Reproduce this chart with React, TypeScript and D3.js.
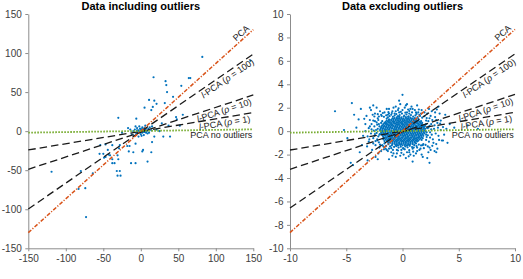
import React, { useEffect, useRef } from 'react';
import * as d3 from 'd3';

// ---- data ----
const leftXTicks = [-150, -100, -50, 0, 50, 100, 150];
const leftYTicks = [-150, -100, -50, 0, 50, 100, 150];
const rightXTicks = [-10, -5, 0, 5, 10];
const rightYTicks = [-10, -8, -6, -4, -2, 0, 2, 4, 6, 8, 10];

const lineNames = ['PCA', 'l-PCA (ρ = 100)', 'l-PCA (ρ = 10)', 'l-PCA (ρ = 1)', 'PCA no outliers'];
// y values at the left and right x-limits
const leftLineEnds = [[-130, 130], [-99.6, 98.8], [-48.9, 46.3], [-24.1, 23.7], [-1.9, 2.3]];
const rightLineEnds = [[-8.66, 8.69], [-6.56, 6.59], [-3.26, 3.14], [-1.61, 1.61], [-0.13, 0.16]];

const leftPoints = [
  [82, 95], [146, 90], [17, 69], [33, 64], [34, 59], [64, 68], [66, 68], [54, 58], [35, 50], [43, 44],
  [32, 36], [11, 40], [18, 39], [21, 35], [16, 31], [14, 27], [5, 30], [-6, 16], [-30, 17], [47, 18],
  [48, 15], [56, 21], [28, 10], [37, 7], [52, 7], [-17, 4], [15, 6], [25, 0], [21, 2], [30, -7],
  [39, -7], [18, -7], [-25, -2], [-47, -17], [-54, -18], [-44, -24], [-47, -33], [-49, -34], [-41, -31],
  [-38, -36], [-35, -41], [-31, -31], [-38, -41], [-32, -51], [-28, -51], [-31, -57], [-27, -57],
  [-18, -19], [-15, -19], [-16, -26], [-10, -27], [-7, -16], [-7, -41], [-13, -41], [2, -26], [3, -24],
  [14, -27], [9, -39], [15, -14], [-119, -52], [-80, -51], [-83, -74], [-74, -73], [-73, -110],
  [-64, -54], [-50, -29], [-55, -29], [-43, -30], [-38, -18], [-30, -36], [-28, -18], [-29, -22],
  [-8, 2], [-5, 4], [-3, 1], [-2, -1], [0, 0], [1, 2], [2, -2], [3, 3], [4, 1], [5, -1], [6, 2],
  [-1, 3], [-4, -2], [7, 4], [8, 0], [-6, -3], [-10, 0], [10, 3], [12, 5], [-12, -4], [2, 5], [-2, 6],
  [0, -4], [4, -5], [-14, 2], [9, -3], [-7, 6], [6, 7], [1, -6], [-3, -7], [14, 1], [-9, -6], [11, -2],
  [-1, -2], [3, -1], [5, 4], [-5, 1], [0, 3], [7, -2],
];

const rightCore = [
  [-0.5, 1.18], [-0.3, 1.22], [-0.1, 1.17], [0.1, 1.23], [0.3, 1.19], [0.5, 1.21], [0.7, 1.16],
  [-0.9, 1.08], [-0.7, 1.12], [-0.5, 1.07], [-0.3, 1.11], [-0.1, 1.09], [0.1, 1.06], [0.3, 1.12], [0.5, 1.08], [0.7, 1.1], [0.9, 1.07], [1.1, 1.11],
  [-1.2, 1.0], [-1.0, 0.97], [-0.8, 1.02], [-0.6, 0.98], [-0.4, 1.03], [-0.2, 0.99], [0.0, 1.01], [0.2, 0.96], [0.4, 1.02], [0.6, 0.99], [0.8, 1.03], [1.0, 0.98], [1.2, 1.01],
  [-1.4, 0.9], [-1.2, 0.88], [-1.0, 0.92], [-0.8, 0.87], [-0.6, 0.91], [-0.4, 0.89], [-0.2, 0.93], [0.0, 0.88], [0.2, 0.9], [0.4, 0.87], [0.6, 0.92], [0.8, 0.89], [1.0, 0.91], [1.2, 0.88], [1.4, 0.9],
  [-1.5, 0.79], [-1.3, 0.81], [-1.1, 0.78], [-0.9, 0.82], [-0.7, 0.8], [-0.5, 0.77], [-0.3, 0.81], [-0.1, 0.79], [0.1, 0.83], [0.3, 0.78], [0.5, 0.8], [0.7, 0.82], [0.9, 0.77], [1.1, 0.81], [1.3, 0.79], [1.5, 0.8],
  [-1.6, 0.7], [-1.4, 0.68], [-1.2, 0.72], [-1.0, 0.69], [-0.8, 0.71], [-0.6, 0.67], [-0.4, 0.7], [-0.2, 0.72], [0.0, 0.68], [0.2, 0.71], [0.4, 0.69], [0.6, 0.73], [0.8, 0.68], [1.0, 0.7], [1.2, 0.72], [1.4, 0.67], [1.6, 0.7],
  [-1.7, 0.6], [-1.5, 0.62], [-1.3, 0.58], [-1.1, 0.61], [-0.9, 0.59], [-0.7, 0.63], [-0.5, 0.58], [-0.3, 0.6], [-0.1, 0.62], [0.1, 0.57], [0.3, 0.61], [0.5, 0.59], [0.7, 0.62], [0.9, 0.58], [1.1, 0.6], [1.3, 0.63], [1.5, 0.59], [1.7, 0.61],
  [-1.8, 0.5], [-1.6, 0.48], [-1.4, 0.52], [-1.2, 0.49], [-1.0, 0.51], [-0.8, 0.47], [-0.6, 0.5], [-0.4, 0.53], [-0.2, 0.48], [0.0, 0.51], [0.2, 0.49], [0.4, 0.52], [0.6, 0.47], [0.8, 0.5], [1.0, 0.52], [1.2, 0.48], [1.4, 0.51], [1.6, 0.49], [1.8, 0.5],
  [-1.85, 0.4], [-1.65, 0.42], [-1.45, 0.38], [-1.25, 0.41], [-1.05, 0.39], [-0.85, 0.43], [-0.65, 0.38], [-0.45, 0.4], [-0.25, 0.42], [-0.05, 0.37], [0.15, 0.41], [0.35, 0.39], [0.55, 0.43], [0.75, 0.38], [0.95, 0.4], [1.15, 0.42], [1.35, 0.39], [1.55, 0.41], [1.75, 0.38], [1.9, 0.4],
  [-1.9, 0.3], [-1.7, 0.28], [-1.5, 0.32], [-1.3, 0.29], [-1.1, 0.31], [-0.9, 0.27], [-0.7, 0.3], [-0.5, 0.33], [-0.3, 0.28], [-0.1, 0.31], [0.1, 0.29], [0.3, 0.32], [0.5, 0.27], [0.7, 0.3], [0.9, 0.32], [1.1, 0.28], [1.3, 0.31], [1.5, 0.29], [1.7, 0.32], [1.9, 0.3],
  [-1.95, 0.2], [-1.75, 0.22], [-1.55, 0.18], [-1.35, 0.21], [-1.15, 0.19], [-0.95, 0.23], [-0.75, 0.18], [-0.55, 0.2], [-0.35, 0.22], [-0.15, 0.17], [0.05, 0.21], [0.25, 0.19], [0.45, 0.23], [0.65, 0.18], [0.85, 0.2], [1.05, 0.22], [1.25, 0.19], [1.45, 0.21], [1.65, 0.18], [1.85, 0.2], [2.0, 0.22],
  [-2.0, 0.1], [-1.8, 0.08], [-1.6, 0.12], [-1.4, 0.09], [-1.2, 0.11], [-1.0, 0.07], [-0.8, 0.1], [-0.6, 0.13], [-0.4, 0.08], [-0.2, 0.11], [0.0, 0.09], [0.2, 0.12], [0.4, 0.07], [0.6, 0.1], [0.8, 0.12], [1.0, 0.08], [1.2, 0.11], [1.4, 0.09], [1.6, 0.12], [1.8, 0.1], [2.0, 0.08],
  [-1.95, 0.0], [-1.75, -0.02], [-1.55, 0.02], [-1.35, -0.01], [-1.15, 0.01], [-0.95, -0.03], [-0.75, 0.0], [-0.55, 0.03], [-0.35, -0.02], [-0.15, 0.01], [0.05, -0.01], [0.25, 0.02], [0.45, -0.03], [0.65, 0.0], [0.85, 0.02], [1.05, -0.02], [1.25, 0.01], [1.45, -0.01], [1.65, 0.02], [1.85, 0.0], [2.05, -0.02],
  [-1.9, -0.1], [-1.7, -0.12], [-1.5, -0.08], [-1.3, -0.11], [-1.1, -0.09], [-0.9, -0.13], [-0.7, -0.08], [-0.5, -0.1], [-0.3, -0.12], [-0.1, -0.07], [0.1, -0.11], [0.3, -0.09], [0.5, -0.13], [0.7, -0.08], [0.9, -0.1], [1.1, -0.12], [1.3, -0.09], [1.5, -0.11], [1.7, -0.08], [1.9, -0.1],
  [-1.85, -0.2], [-1.65, -0.18], [-1.45, -0.22], [-1.25, -0.19], [-1.05, -0.21], [-0.85, -0.17], [-0.65, -0.2], [-0.45, -0.23], [-0.25, -0.18], [-0.05, -0.21], [0.15, -0.19], [0.35, -0.22], [0.55, -0.17], [0.75, -0.2], [0.95, -0.22], [1.15, -0.18], [1.35, -0.21], [1.55, -0.19], [1.75, -0.22], [1.95, -0.2],
  [-1.8, -0.3], [-1.6, -0.32], [-1.4, -0.28], [-1.2, -0.31], [-1.0, -0.29], [-0.8, -0.33], [-0.6, -0.28], [-0.4, -0.3], [-0.2, -0.32], [0.0, -0.27], [0.2, -0.31], [0.4, -0.29], [0.6, -0.33], [0.8, -0.28], [1.0, -0.3], [1.2, -0.32], [1.4, -0.29], [1.6, -0.31], [1.8, -0.28],
  [-1.75, -0.4], [-1.55, -0.38], [-1.35, -0.42], [-1.15, -0.39], [-0.95, -0.41], [-0.75, -0.37], [-0.55, -0.4], [-0.35, -0.43], [-0.15, -0.38], [0.05, -0.41], [0.25, -0.39], [0.45, -0.42], [0.65, -0.37], [0.85, -0.4], [1.05, -0.42], [1.25, -0.38], [1.45, -0.41], [1.65, -0.39], [1.85, -0.4],
  [-1.7, -0.5], [-1.5, -0.52], [-1.3, -0.48], [-1.1, -0.51], [-0.9, -0.49], [-0.7, -0.53], [-0.5, -0.48], [-0.3, -0.5], [-0.1, -0.52], [0.1, -0.47], [0.3, -0.51], [0.5, -0.49], [0.7, -0.53], [0.9, -0.48], [1.1, -0.5], [1.3, -0.52], [1.5, -0.49], [1.7, -0.51],
  [-1.6, -0.6], [-1.4, -0.58], [-1.2, -0.62], [-1.0, -0.59], [-0.8, -0.61], [-0.6, -0.57], [-0.4, -0.6], [-0.2, -0.63], [0.0, -0.58], [0.2, -0.61], [0.4, -0.59], [0.6, -0.62], [0.8, -0.57], [1.0, -0.6], [1.2, -0.62], [1.4, -0.58], [1.6, -0.61],
  [-1.5, -0.7], [-1.3, -0.72], [-1.1, -0.68], [-0.9, -0.71], [-0.7, -0.69], [-0.5, -0.73], [-0.3, -0.68], [-0.1, -0.7], [0.1, -0.72], [0.3, -0.67], [0.5, -0.71], [0.7, -0.69], [0.9, -0.72], [1.1, -0.68], [1.3, -0.7], [1.5, -0.71],
  [-1.4, -0.8], [-1.2, -0.78], [-1.0, -0.82], [-0.8, -0.79], [-0.6, -0.81], [-0.4, -0.77], [-0.2, -0.8], [0.0, -0.83], [0.2, -0.78], [0.4, -0.81], [0.6, -0.79], [0.8, -0.82], [1.0, -0.77], [1.2, -0.8], [1.4, -0.82],
  [-1.3, -0.9], [-1.1, -0.92], [-0.9, -0.88], [-0.7, -0.91], [-0.5, -0.89], [-0.3, -0.93], [-0.1, -0.88], [0.1, -0.9], [0.3, -0.92], [0.5, -0.87], [0.7, -0.91], [0.9, -0.89], [1.1, -0.92], [1.3, -0.88],
  [-1.1, -1.0], [-0.9, -1.02], [-0.7, -0.98], [-0.5, -1.01], [-0.3, -0.99], [-0.1, -1.03], [0.1, -0.98], [0.3, -1.0], [0.5, -1.02], [0.7, -0.97], [0.9, -1.01], [1.1, -0.99],
  [-0.9, -1.1], [-0.7, -1.08], [-0.5, -1.12], [-0.3, -1.09], [-0.1, -1.11], [0.1, -1.07], [0.3, -1.1], [0.5, -1.13], [0.7, -1.08], [0.9, -1.11],
  [-0.6, -1.2], [-0.4, -1.22], [-0.2, -1.18], [0.0, -1.21], [0.2, -1.19], [0.4, -1.23], [0.6, -1.18],
];

const rightHalo = [
  [-2.1, 1.25], [-1.85, 1.3], [-1.65, 1.22], [-1.45, 1.35], [-1.3, 1.18], [-1.15, 1.28], [-1.0, 1.4], [-0.85, 1.22],
  [-0.7, 1.33], [-0.55, 1.45], [-0.4, 1.28], [-0.25, 1.38], [-0.05, 1.5], [0.15, 1.32], [0.35, 1.42], [0.55, 1.27],
  [0.75, 1.37], [0.95, 1.24], [1.15, 1.34], [1.35, 1.2], [1.55, 1.3], [1.75, 1.15], [1.95, 1.27], [2.15, 1.12],
  [-1.75, 1.55], [-1.25, 1.62], [-0.95, 1.55], [-0.6, 1.7], [-0.15, 1.65], [0.25, 1.58], [0.6, 1.72], [0.85, 1.6],
  [1.25, 1.47], [1.65, 1.5], [1.95, 1.6], [-2.0, 1.7], [-0.35, 1.95], [0.5, 1.85], [1.45, 1.85],
  [-2.0, -1.15], [-1.8, -1.2], [-1.6, -1.05], [-1.45, -1.25], [-1.25, -1.12], [-1.1, -1.3], [-0.95, -1.22], [-0.75, -1.35],
  [-0.55, -1.28], [-0.35, -1.4], [-0.15, -1.33], [0.05, -1.45], [0.25, -1.3], [0.45, -1.38], [0.65, -1.25], [0.85, -1.36],
  [1.05, -1.2], [1.25, -1.27], [1.45, -1.15], [1.65, -1.22], [1.85, -1.1], [2.05, -1.18],
  [-1.65, -1.55], [-1.2, -1.5], [-0.85, -1.6], [-0.4, -1.65], [0.2, -1.55], [0.6, -1.62], [0.95, -1.75], [1.5, -1.6],
  [1.9, -1.45], [-0.1, -1.85], [0.55, -2.15], [1.7, -2.0], [2.3, -1.8], [-1.9, -1.7],
  [-2.15, 0.95], [-2.25, 0.55], [-2.2, 0.2], [-2.3, -0.15], [-2.15, -0.45], [-2.25, -0.7], [-2.1, -0.95], [-2.45, 0.85],
  [-2.5, 0.4], [-2.55, 0.05], [-2.45, -0.25], [-2.6, -0.6], [-2.4, -0.85], [-2.75, 0.6], [-2.8, -0.2], [-2.9, 0.95],
  [-3.0, 0.25], [-3.1, -0.45], [-2.95, -0.7], [-3.3, 0.0], [-2.65, 1.4], [-2.2, 1.45], [-2.05, -1.4], [-3.4, 1.05], [-3.15, -1.3],
  [2.1, 0.6], [2.2, 0.25], [2.15, -0.1], [2.25, -0.35], [2.1, -0.75], [2.3, 0.85], [2.4, 0.45], [2.45, -0.55],
  [2.55, 0.15], [2.6, -0.3], [2.5, 1.3], [2.65, 0.95], [2.75, -1.0], [2.85, 0.5], [2.95, -0.2], [3.0, 0.95],
  [3.15, 0.3], [3.25, -0.75], [3.35, 0.65], [3.6, 0.35], [3.7, -0.3], [3.1, -1.5], [2.4, -1.4], [2.9, 1.6],
  [-1.9, 0.7], [-1.8, 0.85], [-1.7, -0.7], [-1.6, -0.85], [1.75, 0.7], [1.65, 0.85], [1.8, -0.6], [1.7, -0.75],
  [1.4, 1.05], [-1.4, 1.07], [1.2, -1.05], [-1.25, -1.0], [2.0, 0.45], [2.1, -0.3], [-2.05, 0.4], [-2.0, -0.25],
];

const rightRing = [
  [-3.2, 1.3], [-3.0, -0.9], [-2.9, 0.4], [-2.8, 1.8], [-2.7, -1.6], [-2.6, 0.9], [-2.5, -0.4], [-2.45, 1.5],
  [-2.4, -1.2], [-2.35, 0.1], [-2.3, 2.0], [-2.25, -0.8], [-2.2, 1.1], [-2.15, -1.9], [-2.1, 0.6], [-2.05, -0.3],
  [-2.3, 0.75], [-2.6, -1.05], [-2.75, 0.15], [-2.5, 1.25],
  [-1.9, 1.4], [-1.7, -1.3], [-1.6, 1.6], [-1.5, -1.5], [-1.4, 1.9], [-1.3, -1.7], [-1.2, 1.5], [-1.0, -1.45],
  [-0.9, 1.7], [-0.8, -1.9], [-0.6, 2.1], [-0.5, -1.6], [-0.3, 1.6], [-0.2, -2.1], [0.0, 1.8], [0.1, -1.5],
  [0.3, 2.2], [0.4, -1.8], [0.6, 1.5], [0.7, -2.0], [0.9, 1.9], [1.0, -1.4], [1.2, 1.6], [1.3, -1.7], [1.5, 1.4],
  [1.6, -1.5], [1.7, 1.8], [1.8, -1.2],
  [2.1, 0.9], [2.15, -0.5], [2.2, 1.5], [2.25, -1.3], [2.3, 0.3], [2.35, -0.9], [2.4, 1.1], [2.45, -0.1],
  [2.5, -1.6], [2.55, 0.6], [2.6, 1.7], [2.7, -0.7], [2.8, 0.2], [2.9, 1.2], [3.0, -1.1], [3.1, 0.7],
  [3.2, -0.4], [3.3, 1.5], [3.4, 0.1], [3.5, -0.8], [2.65, -1.25], [2.35, 1.9], [2.85, -1.7], [3.05, 1.85],
  [-1.2, 1.9], [-0.8, 2.0], [-0.4, 1.8], [0.2, 2.0], [0.7, 1.9], [1.1, 1.8], [-1.0, -1.8], [-0.5, -1.9],
  [0.1, -2.0], [0.6, -1.8], [1.2, -1.9], [-1.4, -1.6], [1.4, 1.6], [-0.1, -1.6], [0.4, 1.6], [-0.7, 1.5],
  [0.9, -1.5], [-1.3, 1.4], [1.3, -1.4], [-0.2, 2.3], [0.8, 2.1], [-0.9, -2.1], [0.3, -2.3], [1.0, -2.1],
];

const rightOutliers = [
  [-6.0, 1.7], [-4.5, 2.4], [-4.6, -2.7], [-4.4, -2.9], [-3.9, 1.0], [-3.7, 1.9], [-3.5, -0.4], [-3.3, 0.6],
  [-3.6, -1.2], [-3.1, -2.5], [-2.9, 2.0], [-2.6, 2.2], [-2.4, -2.2], [-2.2, -2.4], [4.2, 0.6], [4.0, -1.0],
  [3.8, 1.4], [3.6, -0.8], [5.8, 0.5], [6.7, 0.2], [3.2, 2.1], [3.0, -1.8], [2.4, -2.7], [2.2, -2.3],
  [0.0, 3.1], [-0.3, 2.6], [0.4, 2.3], [1.3, 2.2], [1.8, -2.2], [-1.2, -2.4], [-0.6, -2.2], [0.9, -2.6],
  [-5.2, 0.1], [-4.9, -0.6], [4.6, 0.3], [-4.1, 0.3], [-4.3, 1.4], [-3.8, -1.8], [3.4, 0.9], [3.9, 0.2],
];

const rightPoints = [...rightCore, ...rightHalo, ...rightRing, ...rightOutliers];

// ---- styles ----
const FONT = '"Liberation Sans", Arial, Helvetica, sans-serif';
const lineStyles = [
  { stroke: '#D95319', width: 1.5, dash: '4,1.6,1.2,1.6' },
  { stroke: '#1a1a1a', width: 1.3, dash: '7.5,4' },
  { stroke: '#1a1a1a', width: 1.3, dash: '7.5,4' },
  { stroke: '#1a1a1a', width: 1.3, dash: '7.5,4' },
  { stroke: '#77AC30', width: 1.8, dash: '1.6,1.4' },
];

const TOP = 14;
const BOTTOM = 248.3;
const W = 225;

function Panel({ title, left, xDom, yDom, xTicks, yTicks, pts, ends }) {
  const xRef = useRef(null);
  const yRef = useRef(null);
  const x = d3.scaleLinear().domain(xDom).range([left, left + W]);
  const y = d3.scaleLinear().domain(yDom).range([BOTTOM, TOP]);

  useEffect(() => {
    const xa = d3.select(xRef.current)
      .call(d3.axisBottom(x).tickValues(xTicks).tickSize(3).tickSizeOuter(0).tickPadding(4).tickFormat(d => String(d)));
    const ya = d3.select(yRef.current)
      .call(d3.axisLeft(y).tickValues(yTicks).tickSize(3).tickSizeOuter(0).tickPadding(3.5).tickFormat(d => String(d)));
    [xa, ya].forEach(a => {
      a.select('.domain').attr('stroke', '#8c8c8c');
      a.selectAll('.tick line').attr('stroke', '#8c8c8c');
      a.selectAll('.tick text').attr('fill', '#404040').attr('font-size', 10).attr('font-family', FONT);
    });
  });

  const labelX = xDom[1] * 0.999;
  return (
    <g>
      <text x={left + W / 2} y={10} textAnchor="middle" fontFamily={FONT} fontSize={11} fontWeight="bold" fill="#000">{title}</text>
      <g ref={xRef} transform={`translate(0,${BOTTOM})`} />
      <g ref={yRef} transform={`translate(${left},0)`} />
      {pts.map((p, i) => (
        <circle key={i} cx={x(p[0])} cy={y(p[1])} r={1.1} fill="#0072BD" />
      ))}
      {[1, 2, 3, 0, 4].map(i => {
        const s = lineStyles[i];
        return (
          <line key={i} x1={x(xDom[0])} y1={y(ends[i][0])} x2={x(xDom[1])} y2={y(ends[i][1])}
            stroke={s.stroke} strokeWidth={s.width} strokeDasharray={s.dash} />
        );
      })}
      {lineNames.map((name, i) => {
        const slope = (ends[i][1] - ends[i][0]) / (xDom[1] - xDom[0]);
        const yv = ends[i][0] + slope * (labelX - xDom[0]);
        const ang = Math.atan2(y(ends[i][1]) - y(ends[i][0]), x(xDom[1]) - x(xDom[0])) * 180 / Math.PI;
        if (i === 4) {
          return (
            <text key={name} x={x(labelX) - 1} y={y(yv) + 9} textAnchor="end" fontFamily={FONT} fontSize={9} fill="#222">{name}</text>
          );
        }
        const off = i === 0 ? [-2, -2.5] : [-4, 8.5];
        const parts = name.split('ρ');
        return (
          <text key={name} transform={`translate(${x(labelX)},${y(yv)}) rotate(${ang})`} x={off[0]} y={off[1]}
            textAnchor="end" fontFamily={FONT} fontSize={9} fill="#222">
            {i === 0 ? name : (
              <>
                <tspan fontStyle="italic">l</tspan>{parts[0].slice(1)}<tspan fontStyle="italic">ρ</tspan>{parts[1]}
              </>
            )}
          </text>
        );
      })}
    </g>
  );
}

export default function App() {
  return (
    <svg width={523} height={279} style={{ position: 'absolute', left: 0, top: 0, background: '#fff' }}>
      <Panel title="Data including outliers" left={28.3} xDom={[-150, 150]} yDom={[-150, 150]}
        xTicks={leftXTicks} yTicks={leftYTicks} pts={leftPoints} ends={leftLineEnds} />
      <Panel title="Data excluding outliers" left={290} xDom={[-10, 10]} yDom={[-10, 10]}
        xTicks={rightXTicks} yTicks={rightYTicks} pts={rightPoints} ends={rightLineEnds} />
    </svg>
  );
}
